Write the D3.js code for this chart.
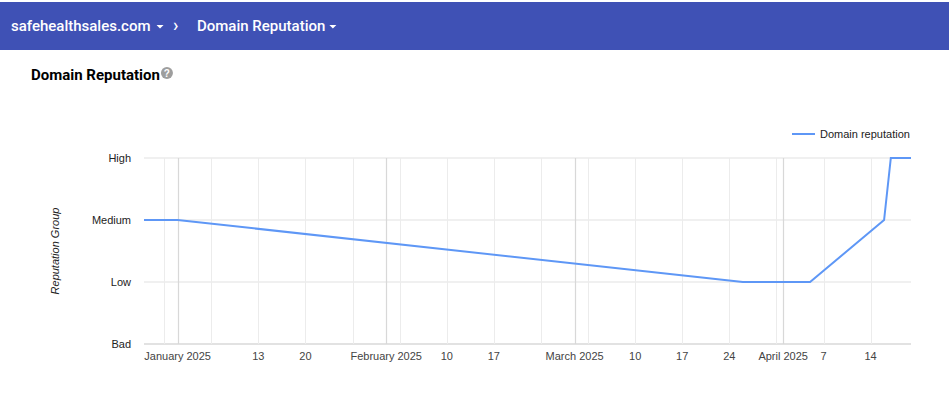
<!DOCTYPE html>
<html>
<head>
<meta charset="utf-8">
<script src="https://cdn.jsdelivr.net/npm/d3@7"></script>
<style>
  html, body { margin: 0; padding: 0; background: #fff; }
  svg { display: block; }
</style>
</head>
<body>
<svg id="chart" width="949" height="397"></svg>
<script>
// ---- data ----
const dates = ["2024-12-27", "2025-01-01", "2025-03-26", "2025-04-05", "2025-04-16", "2025-04-17", "2025-04-20"];
const reputation = ["Medium", "Medium", "Low", "Low", "Medium", "High", "High"];
const levels = ["Bad", "Low", "Medium", "High"];
const monthTicks = ["2025-01-01", "2025-02-01", "2025-03-01", "2025-04-01"];
const weekTicks = ["2024-12-30", "2025-01-06", "2025-01-13", "2025-01-20", "2025-01-27", "2025-02-03", "2025-02-10", "2025-02-17", "2025-02-24", "2025-03-03", "2025-03-10", "2025-03-17", "2025-03-24", "2025-03-31", "2025-04-07", "2025-04-14"];
const tickLabels = [
  ["2025-01-01", "January 2025"], ["2025-01-13", "13"], ["2025-01-20", "20"],
  ["2025-02-01", "February 2025"], ["2025-02-10", "10"], ["2025-02-17", "17"],
  ["2025-03-01", "March 2025"], ["2025-03-10", "10"], ["2025-03-17", "17"], ["2025-03-24", "24"],
  ["2025-04-01", "April 2025"], ["2025-04-07", "7"], ["2025-04-14", "14"]
];
const seriesName = "Domain reputation";

const parse = d3.utcParse("%Y-%m-%d");
const svg = d3.select("#chart");
const font = "Roboto, 'Noto Sans', sans-serif";
const chartFont = "Arial, 'Liberation Sans', sans-serif";

// ---- header ----
svg.append("rect").attr("x", 0).attr("y", 2).attr("width", 949).attr("height", 48).attr("fill", "#3f51b5");
const hdr = svg.append("g").attr("font-family", font).attr("font-size", 15).attr("font-weight", 500).attr("fill", "#fff");
const t1 = hdr.append("text").attr("x", 11).attr("y", 31).text("safehealthsales.com");
const e1 = 11 + t1.node().getComputedTextLength();
hdr.append("path").attr("d", `M${e1 + 6},25 l7,0 l-3.5,3.5 z`).attr("fill", "#fff");
hdr.append("text").attr("x", 173).attr("y", 31).text("›").attr("font-size", 18);
const t2 = hdr.append("text").attr("x", 197).attr("y", 31).text("Domain Reputation");
const e2 = 197 + t2.node().getComputedTextLength();
hdr.append("path").attr("d", `M${e2 + 4},25 l7,0 l-3.5,3.5 z`).attr("fill", "#fff");

// ---- title ----
const tt = svg.append("text").attr("x", 31).attr("y", 80).attr("font-family", font).attr("font-weight", "bold")
  .attr("font-size", 15).attr("fill", "#000").text("Domain Reputation");
const te = 31 + tt.node().getComputedTextLength();
svg.append("circle").attr("cx", te + 7).attr("cy", 73).attr("r", 6).attr("fill", "#9e9e9e");
svg.append("text").attr("x", te + 7).attr("y", 77).attr("text-anchor", "middle").attr("font-family", chartFont)
  .attr("font-weight", "bold").attr("font-size", 10).attr("fill", "#fff").text("?");

// ---- scales ----
const x = d3.scaleUtc().domain([parse(dates[0]), parse(dates[dates.length - 1])]).range([144, 911]);
const y = d3.scalePoint().domain(levels).range([344, 158]);

const g = svg.append("g").attr("font-family", chartFont);

// horizontal gridlines
g.selectAll(".hgrid").data(levels).join("line")
  .attr("x1", 144).attr("x2", 911).attr("y1", d => y(d)).attr("y2", d => y(d))
  .attr("stroke", d => d === "Bad" ? "#d9d9d9" : "#ebebeb").attr("stroke-width", 1.5);

// vertical minor gridlines
g.selectAll(".wgrid").data(weekTicks).join("line")
  .attr("x1", d => Math.round(x(parse(d))) + 0.5).attr("x2", d => Math.round(x(parse(d))) + 0.5)
  .attr("y1", 158).attr("y2", 344).attr("stroke", "#ececec");
// vertical major gridlines
g.selectAll(".mgrid").data(monthTicks).join("line")
  .attr("x1", d => Math.round(x(parse(d))) + 0.5).attr("x2", d => Math.round(x(parse(d))) + 0.5)
  .attr("y1", 158).attr("y2", 344).attr("stroke", "#d8d8d8").attr("stroke-width", 1.2);

// y labels
g.selectAll(".ylab").data(levels).join("text")
  .attr("x", 131).attr("y", d => y(d) + 4).attr("text-anchor", "end")
  .attr("font-size", 11).attr("fill", "#222").text(d => d);

// y title
g.append("text").attr("transform", "translate(59,251) rotate(-90)").attr("text-anchor", "middle")
  .attr("font-size", 11).attr("font-style", "italic").attr("fill", "#222").text("Reputation Group");

// x labels
g.selectAll(".xlab").data(tickLabels).join("text")
  .attr("x", d => x(parse(d[0]))).attr("y", 360).attr("text-anchor", "middle")
  .attr("font-size", 11).attr("fill", "#444").text(d => d[1]);

// line
const pts = dates.map((d, i) => [parse(d), reputation[i]]);
const line = d3.line().x(d => x(d[0])).y(d => y(d[1]));
g.append("path").datum(pts).attr("d", line).attr("fill", "none")
  .attr("stroke", "#5e97f6").attr("stroke-width", 2);

// legend
g.append("line").attr("x1", 792).attr("x2", 815).attr("y1", 134).attr("y2", 134)
  .attr("stroke", "#5e97f6").attr("stroke-width", 2);
g.append("text").attr("x", 820).attr("y", 138).attr("font-size", 11).attr("fill", "#222").text(seriesName);
</script>
</body>
</html>
